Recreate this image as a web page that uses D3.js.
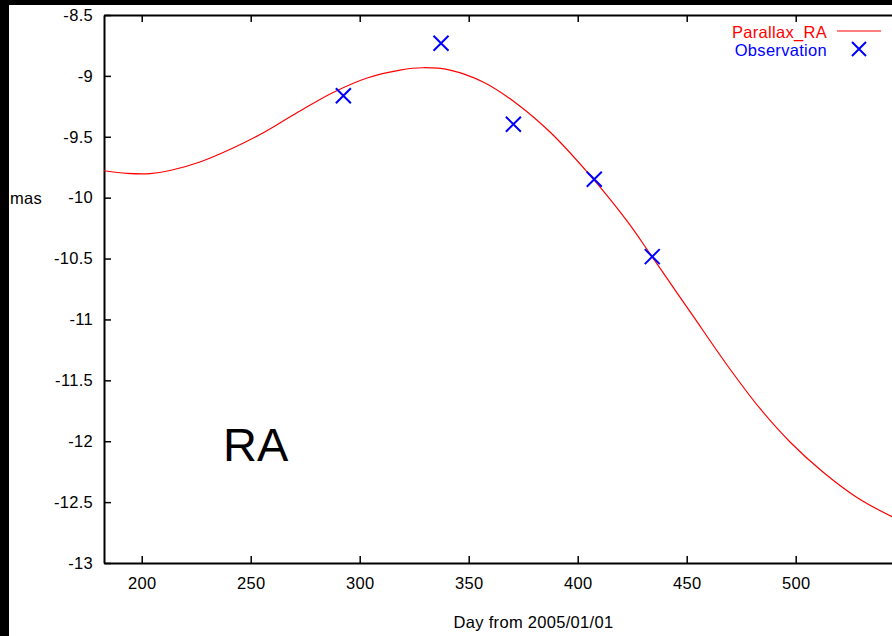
<html>
<head>
<meta charset="utf-8">
<script src="https://d3js.org/d3.v7.min.js"></script>
<style>
body { margin: 0; background: #000; }
svg { display: block; }
text { font-family: "Liberation Sans", Arial, Helvetica, sans-serif; letter-spacing: 0.3px; }
</style>
</head>
<body>
<div id="chart"></div>
<script type="text/javascript">

// fitted parallax curve
var curveDays = [182.7, 193.3, 203.8, 213.0, 226.7, 241.9, 254.3, 263.4, 272.6, 287.8, 303.4,
                 318.5, 329.0, 341.4, 356.6, 372.2, 387.3, 404.3, 422.6, 434.1, 446.9, 452.9,
                 468.5, 483.6, 497.4, 512.5, 528.1, 544.2, 559.8];
var curveVals = [-9.779, -9.800, -9.802, -9.777, -9.707, -9.592, -9.481, -9.387, -9.288, -9.136,
                 -9.017, -8.952, -8.933, -8.952, -9.050, -9.230, -9.461, -9.789, -10.191, -10.485,
                 -10.816, -10.971, -11.374, -11.731, -12.006, -12.253, -12.462, -12.620, -12.745];

// observed positions
var obsDays = [292.5, 337.3, 370.5, 407.6, 434.2];
var obsVals = [-9.163, -8.732, -9.397, -9.849, -10.484];

var xTicks = [200, 250, 300, 350, 400, 450, 500];
var yTicks = [-13, -12.5, -12, -11.5, -11, -10.5, -10, -9.5, -9, -8.5];

var width = 892, height = 636;
var plotLeft = 104, plotTop = 15, plotBottom = 563, plotRight = 926.5;

var svg = d3.select("#chart").append("svg")
	.attr("width", width)
	.attr("height", height);

// white panel (black frame shows on the left and top)
svg.append("rect")
	.attr("x", 9).attr("y", 5)
	.attr("width", width - 9).attr("height", height - 5)
	.style("fill", "#fff");

var x = d3.scaleLinear().domain([182.7, 560]).range([plotLeft, plotRight]);
var y = d3.scaleLinear().domain([-13, -8.5]).range([plotBottom, plotTop]);

svg.append("clipPath").attr("id", "plot")
	.append("rect")
	.attr("x", plotLeft).attr("y", plotTop)
	.attr("width", plotRight - plotLeft).attr("height", plotBottom - plotTop);

// axes, ticks pointing inwards
svg.append("g")
	.attr("transform", "translate(0," + plotBottom + ")")
	.call(d3.axisBottom(x).tickValues(xTicks).tickSizeInner(-7).tickSizeOuter(0).tickPadding(14));

svg.append("g")
	.attr("transform", "translate(0," + plotTop + ")")
	.call(d3.axisTop(x).tickValues(xTicks).tickSizeInner(-7).tickSizeOuter(0).tickFormat(""));

svg.append("g")
	.attr("transform", "translate(" + plotLeft + ",0)")
	.call(d3.axisLeft(y).tickValues(yTicks).tickSizeInner(-7).tickSizeOuter(0).tickPadding(11)
		.tickFormat(function(d) { return String(d); }));

svg.selectAll(".domain").style("stroke", "#000").style("stroke-width", 2);
svg.selectAll(".tick line").style("stroke", "#000").style("stroke-width", 1.5);
svg.selectAll(".tick text")
	.style("font-size", "16.5px")
	.style("fill", "#000")
	.attr("font-family", null);

// curve
var line = d3.line()
	.x(function(d, i) { return x(curveDays[i]); })
	.y(function(d, i) { return y(curveVals[i]); })
	.curve(d3.curveCatmullRom.alpha(0.5));

svg.append("path")
	.datum(curveVals)
	.attr("clip-path", "url(#plot)")
	.attr("d", line)
	.style("fill", "none")
	.style("stroke", "#ff0000")
	.style("stroke-width", 1.2);

// observation crosses
var s = 7.5;
function cross(g, cx, cy, h) {
	g.append("path")
		.attr("d", "M" + (cx - h) + "," + (cy - h) + "L" + (cx + h) + "," + (cy + h) +
		           "M" + (cx - h) + "," + (cy + h) + "L" + (cx + h) + "," + (cy - h))
		.style("stroke", "#0000ff")
		.style("stroke-width", 2)
		.style("fill", "none");
}
obsDays.forEach(function(d, i) {
	cross(svg, x(d), y(obsVals[i]), s);
});

// legend
svg.append("text")
	.attr("x", 827).attr("y", 38)
	.attr("text-anchor", "end")
	.style("font-size", "16.5px")
	.style("fill", "#ff0000")
	.text("Parallax_RA");
svg.append("line")
	.attr("x1", 837).attr("x2", 881)
	.attr("y1", 31).attr("y2", 31)
	.style("stroke", "#ff0000")
	.style("stroke-width", 1.2);
svg.append("text")
	.attr("x", 827).attr("y", 55.5)
	.attr("text-anchor", "end")
	.style("font-size", "16.5px")
	.style("fill", "#0000ff")
	.text("Observation");
cross(svg, 859, 49, 7);

// axis titles
svg.append("text")
	.attr("x", 10).attr("y", 204)
	.style("font-size", "16.5px")
	.text("mas");

svg.append("text")
	.attr("x", 533.5).attr("y", 628)
	.attr("text-anchor", "middle")
	.style("font-size", "16.5px")
	.text("Day from 2005/01/01");

// panel label
svg.append("text")
	.attr("x", 223).attr("y", 461)
	.style("font-size", "47px")
	.style("letter-spacing", "0px")
	.text("RA");

</script>
</body>
</html>
